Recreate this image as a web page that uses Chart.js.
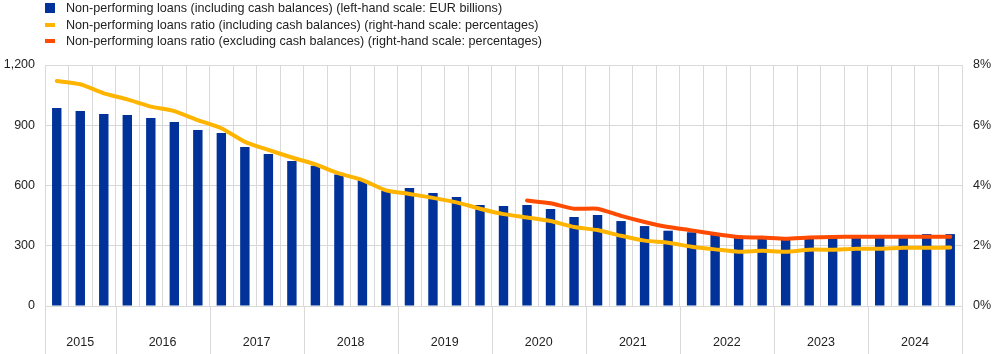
<!DOCTYPE html>
<html>
<head>
<meta charset="utf-8">
<script src="https://cdn.jsdelivr.net/npm/chart.js@4/dist/chart.umd.min.js"></script>
<style>
    html, body { margin: 0; padding: 0; background: #fff; }
    .wrap { position: relative; width: 1005px; height: 354px; }
    .legend {
        position: absolute; left: 45px; top: 0;
        font: 12.6px "Liberation Sans", Arial, sans-serif; color: #222;
    }
    .legend div { position: relative; height: 16.6px; line-height: 16.6px; padding-left: 21px; white-space: nowrap; }
    .legend i { position: absolute; left: 0; display: block; }
    .legend .sq { top: 3px; width: 10px; height: 10px; }
    .legend .ln { top: 6px; width: 10px; height: 4px; }
</style>
</head>
<body>
<div class="wrap">
    <canvas id="nplChart" width="1005" height="354"></canvas>
    <div class="legend" id="legend"></div>
</div>
<script>
/* ============================================
   NPL CHART - DATA
   ============================================ */

const quarters = [
    '2015 Q2', '2015 Q3', '2015 Q4',
    '2016 Q1', '2016 Q2', '2016 Q3', '2016 Q4',
    '2017 Q1', '2017 Q2', '2017 Q3', '2017 Q4',
    '2018 Q1', '2018 Q2', '2018 Q3', '2018 Q4',
    '2019 Q1', '2019 Q2', '2019 Q3', '2019 Q4',
    '2020 Q1', '2020 Q2', '2020 Q3', '2020 Q4',
    '2021 Q1', '2021 Q2', '2021 Q3', '2021 Q4',
    '2022 Q1', '2022 Q2', '2022 Q3', '2022 Q4',
    '2023 Q1', '2023 Q2', '2023 Q3', '2023 Q4',
    '2024 Q1', '2024 Q2', '2024 Q3', '2024 Q4'
];

const years = ['2015', '2016', '2017', '2018', '2019', '2020', '2021', '2022', '2023', '2024'];

// left-hand scale: EUR billions
const nplVolume = [
    986, 971, 956, 951, 936, 916, 876, 861, 792, 757, 722, 698, 655,
    627, 574, 587, 563, 543, 503, 498, 503, 483, 443, 453, 423, 398,
    375, 367, 354, 345, 343, 340, 345, 345, 350, 350, 352, 358, 358
];

// right-hand scale: percentages
const nplRatioIncl = [
    7.47, 7.36, 7.06, 6.86, 6.62, 6.47, 6.17, 5.90, 5.45, 5.18, 4.93, 4.70, 4.40,
    4.18, 3.84, 3.72, 3.59, 3.44, 3.23, 3.05, 2.94, 2.82, 2.62, 2.52, 2.33, 2.17,
    2.10, 1.97, 1.88, 1.80, 1.83, 1.80, 1.87, 1.87, 1.90, 1.90, 1.93, 1.93, 1.94
];

const nplRatioExcl = [
    null, null, null, null, null, null, null, null, null, null,
    null, null, null, null, null, null, null, null, null, null,
    3.50, 3.41, 3.23, 3.23, 2.99, 2.79, 2.62, 2.51, 2.39, 2.29,
    2.27, 2.23, 2.27, 2.29, 2.30, 2.30, 2.30, 2.30, 2.30
];

const leftTicks = [0, 300, 600, 900, 1200];
const rightTicks = [0, 2, 4, 6, 8];

const seriesNames = [
    'Non-performing loans (including cash balances) (left-hand scale: EUR billions)',
    'Non-performing loans ratio (including cash balances) (right-hand scale: percentages)',
    'Non-performing loans ratio (excluding cash balances) (right-hand scale: percentages)'
];

const BLUE = '#003299';
const YELLOW = '#ffb400';
const ORANGE = '#ff4b00';
const GRID = '#d9d9d9';
const FONT = '"Liberation Sans", Arial, sans-serif';
const FONT_SIZE = 12.5;

/* ============================================
   LEGEND
   ============================================ */

function buildLegend() {
    const box = document.getElementById('legend');
    const marks = [['sq', BLUE], ['ln', YELLOW], ['ln', ORANGE]];
    seriesNames.forEach((name, i) => {
        const row = document.createElement('div');
        const mark = document.createElement('i');
        mark.className = marks[i][0];
        mark.style.background = marks[i][1];
        row.appendChild(mark);
        row.appendChild(document.createTextNode(name));
        box.appendChild(row);
    });
}

/* ============================================
   YEAR BANDS ON X AXIS
   ============================================ */

const yearBands = {
    id: 'yearBands',
    afterDraw(chart) {
        const ctx = chart.ctx;
        const x = chart.scales.x;
        const area = chart.chartArea;
        const half = (x.getPixelForValue(1) - x.getPixelForValue(0)) / 2;

        ctx.save();
        ctx.strokeStyle = GRID;
        ctx.lineWidth = 1;
        ctx.fillStyle = '#222';
        ctx.font = FONT_SIZE + 'px ' + FONT;
        ctx.textAlign = 'center';
        ctx.textBaseline = 'middle';

        years.forEach(year => {
            const idx = quarters.map((q, i) => q.startsWith(year) ? i : -1).filter(i => i >= 0);
            const x0 = x.getPixelForValue(idx[0]) - half;
            const x1 = x.getPixelForValue(idx[idx.length - 1]) + half;
            [x0, x1].forEach(px => {
                const p = Math.round(px) + 0.5;
                ctx.beginPath();
                ctx.moveTo(p, area.bottom);
                ctx.lineTo(p, chart.height);
                ctx.stroke();
            });
            ctx.fillText(year, (x0 + x1) / 2, 343);
        });
        ctx.restore();
    }
};

/* ============================================
   CHART
   ============================================ */

function initChart() {
    const ctx = document.getElementById('nplChart').getContext('2d');

    new Chart(ctx, {
        data: {
            labels: quarters,
            datasets: [
                {
                    type: 'line',
                    label: seriesNames[2],
                    data: nplRatioExcl,
                    yAxisID: 'y1',
                    borderColor: ORANGE,
                    borderWidth: 4,
                    pointRadius: 0,
                    tension: 0.2,
                    borderCapStyle: 'round',
                    borderJoinStyle: 'round',
                    order: 1
                },
                {
                    type: 'line',
                    label: seriesNames[1],
                    data: nplRatioIncl,
                    yAxisID: 'y1',
                    borderColor: YELLOW,
                    borderWidth: 4,
                    pointRadius: 0,
                    tension: 0.2,
                    borderCapStyle: 'round',
                    borderJoinStyle: 'round',
                    order: 2
                },
                {
                    type: 'bar',
                    label: seriesNames[0],
                    data: nplVolume,
                    yAxisID: 'y',
                    backgroundColor: BLUE,
                    categoryPercentage: 1,
                    barPercentage: 0.4,
                    order: 3
                }
            ]
        },
        options: {
            responsive: false,
            animation: false,
            layout: {
                padding: { top: 65, left: 0, right: 0, bottom: 0 }
            },
            plugins: {
                legend: { display: false },
                tooltip: { enabled: false }
            },
            scales: {
                x: {
                    offset: true,
                    grid: {
                        offset: true,
                        color: GRID,
                        drawTicks: false
                    },
                    border: { color: GRID },
                    ticks: { display: false, autoSkip: false },
                    afterFit: function(scale) { scale.height = 48; }
                },
                y: {
                    position: 'left',
                    min: 0,
                    max: 1200,
                    afterBuildTicks: function(scale) {
                        scale.ticks = leftTicks.map(v => ({ value: v }));
                    },
                    grid: { color: GRID, drawTicks: false },
                    border: { color: GRID },
                    ticks: {
                        padding: 10,
                        color: '#222',
                        font: { family: FONT, size: FONT_SIZE },
                        callback: function(value) {
                            return value.toLocaleString('en-US');
                        }
                    },
                    afterFit: function(scale) { scale.width = 45; }
                },
                y1: {
                    position: 'right',
                    min: 0,
                    max: 8,
                    afterBuildTicks: function(scale) {
                        scale.ticks = rightTicks.map(v => ({ value: v }));
                    },
                    grid: { drawOnChartArea: false, drawTicks: false },
                    border: { color: GRID },
                    ticks: {
                        padding: 11,
                        color: '#222',
                        font: { family: FONT, size: FONT_SIZE },
                        callback: function(value) {
                            return value + '%';
                        }
                    },
                    afterFit: function(scale) { scale.width = 43; }
                }
            }
        },
        plugins: [yearBands]
    });
}

document.addEventListener('DOMContentLoaded', function() {
    buildLegend();
    initChart();
});
</script>
</body>
</html>
